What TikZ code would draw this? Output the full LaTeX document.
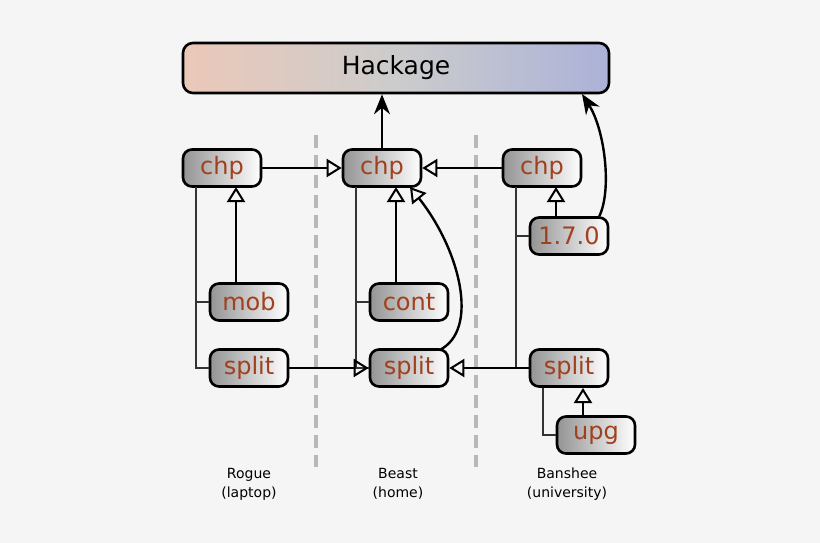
\documentclass[tikz,border=0pt]{standalone}
\usepackage{fontspec}
\setmainfont{DejaVu Sans}
\usetikzlibrary{arrows.meta}
\definecolor{txt}{HTML}{A0401F}
\begin{document}
\begin{tikzpicture}[x=1pt,y=-1pt,
 pkg/.style={draw=black,line width=2.6pt,rounded corners=9pt,minimum width=78pt,minimum height=37pt,left color=black!42,right color=white,text=txt,font=\fontsize{24}{24}\selectfont,inner sep=0pt},
 tree/.style={line width=1.2pt,black!80},
 dep/.style={line width=2.4pt,-{Triangle[open,length=15pt,width=18pt,line width=2pt]}},
 up/.style={line width=2.4pt,-{Stealth[length=20pt,width=16pt]}},
 lab/.style={font=\fontsize{14}{19}\selectfont,align=center}]
\useasboundingbox[fill=black!4] (0,0) rectangle (820,543);
\draw[line width=4pt,black!28,dash pattern=on 13pt off 7pt] (316,135) -- (316,467) (476,135) -- (476,467);
\node[draw=black,line width=2.6pt,rounded corners=10pt,minimum width=426pt,minimum height=50pt,inner sep=0pt,left color={rgb,255:red,235;green,200;blue,185},right color={rgb,255:red,172;green,178;blue,216},middle color=black!20,font=\fontsize{25}{25}\selectfont] (hack) at (396,68) {Hackage};
\node[pkg] (c1) at (222,168) {chp};
\node[pkg] (c2) at (382,168) {chp};
\node[pkg] (c3) at (542,168) {chp};
\node[pkg] (v) at (569,236) {1.7.0};
\node[pkg] (mob) at (249,302) {mob};
\node[pkg] (cont) at (409,302) {cont};
\node[pkg] (s1) at (249,368) {split};
\node[pkg] (s2) at (409,368) {split};
\node[pkg] (s3) at (569,368) {split};
\node[pkg] (upg) at (596,435) {upg};
\coordinate (t1) at (196,187); \coordinate (t2) at (356,187); \coordinate (t3) at (516,187); \coordinate (t4) at (543,388);
\draw[tree] (t1) |- (s1.west) (t1|-mob) -- (mob.west);
\draw[tree] (t2) |- (s2.west) (t2|-cont) -- (cont.west);
\draw[tree] (t3) |- (s3.west) (t3|-v) -- (v.west);
\draw[tree] (t4) |- (upg.west);
\draw[dep] (mob.north -| 236,0) -- (236,187);
\draw[dep] (cont.north -| 396,0) -- (396,187);
\draw[dep] (v.north -| 556,0) -- (556,187);
\draw[dep] (upg.north -| 583,0) -- (583,388);
\draw[dep] (c1) -- (c2);
\draw[dep] (c3) -- (c2);
\draw[dep] (s1) -- (s2);
\draw[dep] (s3) -- (s2);
\draw[dep] (s2.north east) ++(-10,2) .. controls (480,330) and (460,250) .. (410,187);
\draw[up] (c2) -- (hack.south -| c2);
\draw[up] (v.north east) ++(-10,0) .. controls (612,190) and (605,130) .. (582,94);
\node[lab] (r) at (249,484) {Rogue\\(laptop)};
\node[lab] (b) at (398,484) {Beast\\(home)};
\node[lab] (bn) at (567,484) {Banshee\\(university)};
\end{tikzpicture}
\end{document}
